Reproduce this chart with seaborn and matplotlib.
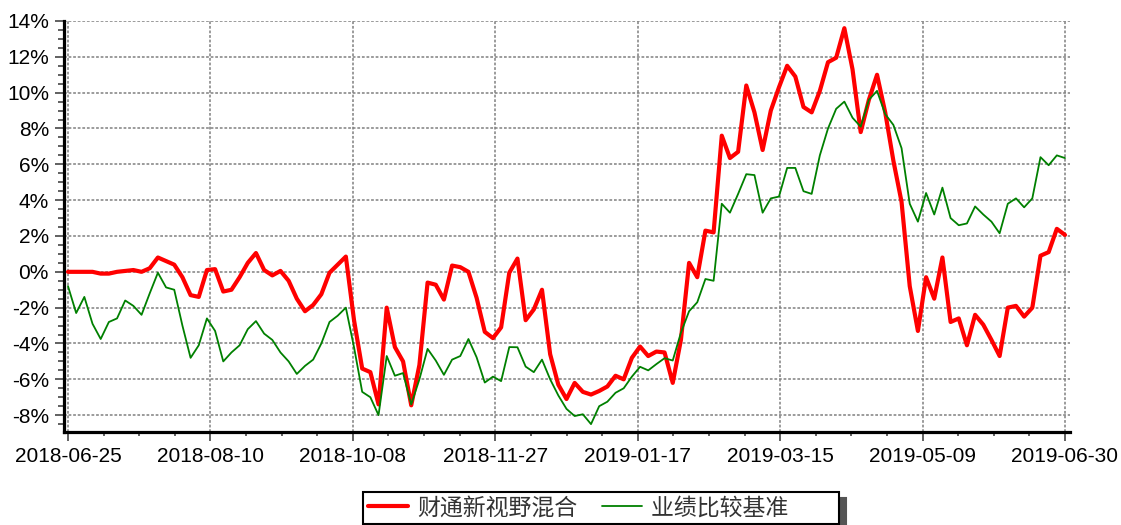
import numpy as np
import pandas as pd
import matplotlib
matplotlib.use("Agg")
import matplotlib.pyplot as plt
import seaborn as sns
from matplotlib.ticker import MultipleLocator, FixedLocator, FuncFormatter

# ---- data (cumulative return, %, sampled every second trading day) ----
fund = [0.0, 0.0, 0.0, 0.0, -0.1, -0.1, 0.0, 0.05, 0.1, 0.0,
        0.2, 0.8, 0.6, 0.4, -0.3, -1.3, -1.4, 0.1, 0.15, -1.1,
        -1.0, -0.3, 0.5, 1.05, 0.1, -0.2, 0.05, -0.5, -1.5, -2.2,
        -1.85, -1.25, -0.05, 0.4, 0.85, -2.7, -5.4, -5.6, -7.4, -2.0,
        -4.2, -5.0, -7.45, -5.2, -0.6, -0.72, -1.55, 0.35, 0.26, 0.0,
        -1.45, -3.35, -3.7, -3.1, -0.05, 0.74, -2.7, -2.1, -1.0, -4.6,
        -6.3, -7.1, -6.2, -6.7, -6.85, -6.65, -6.4, -5.8, -6.0, -4.8,
        -4.17, -4.7, -4.45, -4.5, -6.2, -3.8, 0.5, -0.3, 2.3, 2.2,
        7.6, 6.35, 6.7, 10.4, 8.9, 6.8, 9.0, 10.3, 11.5, 10.9,
        9.2, 8.9, 10.1, 11.7, 11.95, 13.6, 11.3, 7.8, 9.6, 11.0,
        8.9, 6.2, 3.9, -0.8, -3.3, -0.3, -1.5, 0.8, -2.8, -2.6,
        -4.1, -2.4, -2.95, -3.8, -4.7, -2.0, -1.9, -2.5, -2.0, 0.9,
        1.1, 2.4, 2.06]
bench = [-0.8, -2.3, -1.4, -2.9, -3.75, -2.8, -2.6, -1.6, -1.9, -2.4,
         -1.2, -0.05, -0.87, -1.0, -3.0, -4.8, -4.1, -2.6, -3.3, -5.0,
         -4.5, -4.1, -3.2, -2.75, -3.45, -3.8, -4.5, -5.0, -5.7, -5.25,
         -4.9, -4.0, -2.8, -2.45, -2.0, -4.21, -6.7, -7.0, -8.0, -4.7,
         -5.8, -5.65, -7.4, -6.0, -4.3, -4.95, -5.75, -4.9, -4.7, -3.75,
         -4.77, -6.18, -5.85, -6.1, -4.2, -4.21, -5.29, -5.6, -4.9, -6.0,
         -6.9, -7.65, -8.05, -7.95, -8.5, -7.5, -7.25, -6.75, -6.5, -5.85,
         -5.3, -5.5, -5.15, -4.82, -4.95, -3.4, -2.2, -1.7, -0.4, -0.5,
         3.8, 3.3, 4.35, 5.45, 5.4, 3.3, 4.1, 4.2, 5.8, 5.8,
         4.5, 4.35, 6.5, 8.0, 9.1, 9.5, 8.6, 8.1, 9.6, 10.1,
         8.8, 8.2, 6.9, 3.8, 2.8, 4.4, 3.2, 4.7, 3.0, 2.6,
         2.7, 3.65, 3.2, 2.8, 2.15, 3.8, 4.1, 3.6, 4.1, 6.4,
         5.95, 6.5, 6.35]
date_labels = ["2018-06-25", "2018-08-10", "2018-10-08", "2018-11-27",
               "2019-01-17", "2019-03-15", "2019-05-09", "2019-06-30"]
series_names = ["财通新视野混合", "业绩比较基准"]
y_ticks = [-8, -6, -4, -2, 0, 2, 4, 6, 8, 10, 12, 14]

sns.set_style("white")
plt.rcParams["font.family"] = ["Liberation Sans", "Noto Sans CJK SC", "DejaVu Sans"]
plt.rcParams["axes.unicode_minus"] = False

n = len(fund)
df = pd.DataFrame({"idx": np.arange(n), "fund": fund, "bench": bench})

W, H = 1121, 525
fig = plt.figure(figsize=(W / 100, H / 100), dpi=100)
ax = fig.add_axes([63.5 / W, 1 - 432 / H, (1070 - 63.5) / W, (432 - 21) / H])

sns.lineplot(data=df, x="idx", y="fund", ax=ax, color="#ff0000", linewidth=3.0,
             label=series_names[0], legend=False, zorder=3)
sns.lineplot(data=df, x="idx", y="bench", ax=ax, color="#008000", linewidth=1.3,
             label=series_names[1], legend=False, zorder=4)

unit = (n - 1) / 997.0  # data units per pixel
ax.set_xlim(-4.5 * unit, (n - 1) + 5 * unit)
ax.set_ylim(-8.94, 14)

major_x = np.linspace(0, n - 1, len(date_labels))
ax.xaxis.set_major_locator(FixedLocator(major_x))
ax.xaxis.set_minor_locator(FixedLocator(np.linspace(0, n - 1, 4 * (len(date_labels) - 1) + 1)))
ax.set_xticklabels(date_labels)
ax.yaxis.set_major_locator(FixedLocator(y_ticks))
ax.yaxis.set_minor_locator(MultipleLocator(0.5))
ax.yaxis.set_major_formatter(FuncFormatter(lambda v, p: f"{int(round(v))}%"))
ax.set_xlabel("")
ax.set_ylabel("")

ax.grid(True, which="major", color="#808080", linestyle=(0, (1.8, 1.2)), linewidth=1.1)
for t in ax.yaxis.get_major_ticks():
    if abs(t.get_loc() - 14) < 1e-6:
        t.gridline.set_visible(False)

for s in ["top", "right"]:
    ax.spines[s].set_visible(False)
for s in ["left", "bottom"]:
    ax.spines[s].set_color("black")
    ax.spines[s].set_linewidth(2.3)

ax.tick_params(axis="x", which="major", direction="out", length=6.5, width=1.4,
               color="#606060", pad=4, labelsize=15, labelcolor="black", bottom=True)
ax.tick_params(axis="x", which="minor", direction="out", length=3, width=1.4,
               color="#606060", bottom=True)
ax.tick_params(axis="y", which="major", direction="out", length=6.5, width=1.4,
               color="#606060", pad=4, labelsize=15, labelcolor="black", left=True)
ax.tick_params(axis="y", which="minor", direction="out", length=4.3, width=1.4,
               color="#606060", left=True)

handles = ax.get_lines()[:2]
leg = fig.legend(handles, [series_names[0], series_names[1] + "\u3000\u3000"],
                 loc="upper left", bbox_to_anchor=(363 / W, 1 - 491.5 / H),
                 borderaxespad=0.0,
                 ncol=2, frameon=True, fancybox=False, edgecolor="black",
                 framealpha=1, borderpad=0.2, handlelength=1.75, handletextpad=0.4,
                 columnspacing=1.1,
                 prop={"family": ["Noto Sans CJK SC", "DejaVu Sans"], "size": 16.5},
                 labelcolor="#333333",
                 shadow={"ox": 5, "oy": -5, "color": "#555555", "alpha": 1})
leg.get_frame().set_linewidth(1.5)

fig.savefig("out.png", dpi=100)
